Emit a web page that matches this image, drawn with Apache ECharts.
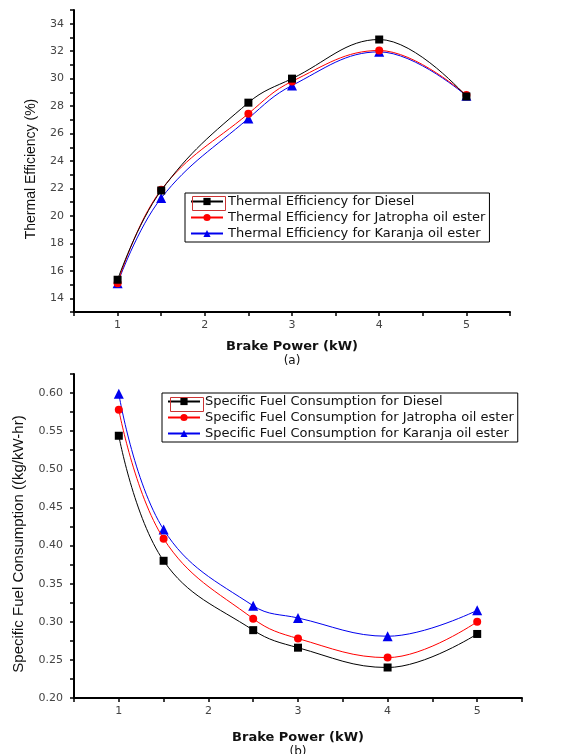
<!DOCTYPE html>
<html><head><meta charset="utf-8">
<script src="https://cdn.jsdelivr.net/npm/echarts@6/dist/echarts.min.js"></script>
<style>html,body{margin:0;padding:0;background:#fff}#c{width:563px;height:754px}</style>
</head><body><div id="c"></div>
<script>
var brakePower = [1, 1.5, 2.5, 3, 4, 5];
var teDiesel = [15.35, 21.85, 28.25, 30.0, 32.85, 28.7];
var teJatropha = [15.1, 21.9, 27.45, 29.8, 32.05, 28.8];
var teKaranja = [15.1, 21.3, 27.1, 29.5, 31.95, 28.75];
var sfcDiesel = [0.544, 0.380, 0.289, 0.266, 0.240, 0.284];
var sfcJatropha = [0.578, 0.409, 0.304, 0.278, 0.253, 0.300];
var sfcKaranja = [0.599, 0.421, 0.321, 0.305, 0.281, 0.315];
var namesTop = ['Thermal Efficiency for Diesel','Thermal Efficiency for Jatropha oil ester','Thermal Efficiency for Karanja oil ester'];
var namesBot = ['Specific Fuel Consumption for Diesel','Specific Fuel Consumption for Jatropha oil ester','Specific Fuel Consumption for Karanja oil ester'];

function pairs(ys){ return brakePower.map(function(x,i){return [x, ys[i]];}); }
var FONT = 'Liberation Sans, Arial, sans-serif';
var WIDE = 'DejaVu Sans, sans-serif';
var colors = ['#000000','#ff0000','#0000ee'];
var symbols = ['rect','circle','triangle'];
var sizes = [8,8,10];

function xAxis(gi, label, gap){
  return {
    type:'value', gridIndex:gi, min:0.5, max:5.5, interval:0.5,
    axisLine:{show:true, onZero:false, lineStyle:{color:'#000', width:2}},
    axisTick:{show:true, length:4, lineStyle:{color:'#000', width:1.5}},
    splitLine:{show:false},
    axisLabel:{color:'#444', fontFamily:WIDE, fontSize:11, margin:8,
      formatter:function(v){ return Math.abs(v-Math.round(v))<1e-6 ? String(Math.round(v)) : ''; }},
    name:'{b|Brake Power (kW)}\n{n|(' + label + ')}',
    nameLocation:'middle', nameGap:gap,
    nameTextStyle:{rich:{
      b:{fontFamily:WIDE, fontSize:13, fontWeight:'bold', color:'#111', lineHeight:14},
      n:{fontFamily:WIDE, fontSize:12, color:'#111', lineHeight:13}}}
  };
}

var option = {
  backgroundColor:'#fff',
  animation:false,
  grid:[
    {left:74, top:10, right:53, bottom:442, outerBoundsMode:'none', containLabel:false},
    {left:74, top:374, right:41, bottom:56, outerBoundsMode:'none', containLabel:false}
  ],
  xAxis:[xAxis(0,'a',28), xAxis(1,'b',33)],
  yAxis:[
    {type:'value', gridIndex:0, min:13, max:35, interval:1,
      axisLine:{show:true, lineStyle:{color:'#000', width:2}},
      axisTick:{show:true, length:4, lineStyle:{color:'#000', width:1.5}},
      splitLine:{show:false},
      axisLabel:{color:'#444', fontFamily:WIDE, fontSize:11, margin:10,
        formatter:function(v){ return (Math.round(v)%2===0) ? String(Math.round(v)) : ''; }},
      name:'Thermal Efficiency (%)', nameLocation:'middle', nameGap:36,
      nameTextStyle:{fontFamily:FONT, fontSize:14, color:'#111', padding:[0,16,0,0]}
    },
    {type:'value', gridIndex:1, min:0.2, max:0.625, interval:0.025,
      axisLine:{show:true, lineStyle:{color:'#000', width:2}},
      axisTick:{show:true, length:4, lineStyle:{color:'#000', width:1.5}},
      splitLine:{show:false},
      axisLabel:{color:'#444', fontFamily:WIDE, fontSize:11, margin:11,
        formatter:function(v){ var m=Math.round(v*1000); return (m%50===0) ? (m/1000).toFixed(2) : ''; }},
      name:'Specific Fuel Consumption ((kg/kW-hr)', nameLocation:'middle', nameGap:48,
      nameTextStyle:{fontFamily:FONT, fontSize:15, color:'#111', padding:[0,16,0,0]}
    }
  ],
  legend:[
    {data:namesTop, orient:'vertical', left:185, top:193, width:310,
      itemWidth:32, itemHeight:9, itemGap:3, padding:[2,4,2,5],
      borderColor:'#000', borderWidth:1, backgroundColor:'#fff',
      textStyle:{fontFamily:WIDE, fontSize:13, color:'#111'}},
    {data:namesBot, orient:'vertical', left:162, top:393, width:357,
      itemWidth:32, itemHeight:9, itemGap:3, padding:[2,4,2,5],
      borderColor:'#000', borderWidth:1, backgroundColor:'#fff',
      textStyle:{fontFamily:WIDE, fontSize:13, color:'#111'}}
  ],
  graphic:[
    {type:'rect', left:190, top:194, shape:{width:33, height:14}, z:200,
      style:{fill:null, stroke:'#cc3333', lineWidth:1}},
    {type:'rect', left:168, top:395, shape:{width:33, height:14}, z:200,
      style:{fill:null, stroke:'#cc3333', lineWidth:1}}
  ],
  series:[]
};
var topData=[teDiesel, teJatropha, teKaranja];
var botData=[sfcDiesel, sfcJatropha, sfcKaranja];
for (var i=0;i<3;i++){
  option.series.push({name:namesTop[i], type:'line', xAxisIndex:0, yAxisIndex:0,
    data:pairs(topData[i]), smooth:0.4, symbol:symbols[i], symbolSize:sizes[i],
    lineStyle:{color:colors[i], width:1}, itemStyle:{color:colors[i]}, z:3-i});
  option.series.push({name:namesBot[i], type:'line', xAxisIndex:1, yAxisIndex:1,
    data:pairs(botData[i]), smooth:0.4, symbol:symbols[i], symbolSize:sizes[i],
    lineStyle:{color:colors[i], width:1}, itemStyle:{color:colors[i]}, z:3-i});
}
var chart = echarts.init(document.getElementById('c'), null, {renderer:'canvas'});
chart.setOption(option);
</script></body></html>
